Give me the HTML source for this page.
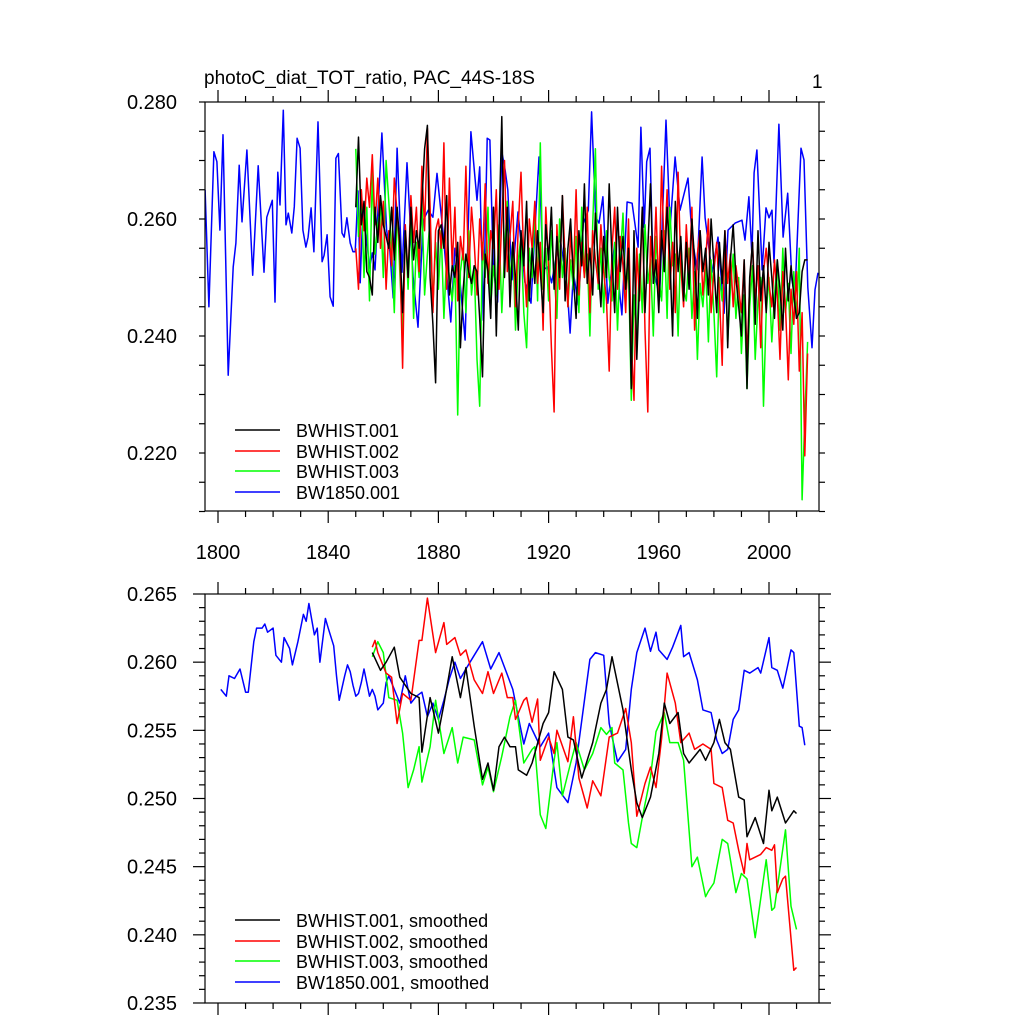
<!DOCTYPE html>
<html><head><meta charset="utf-8"><style>
html,body{margin:0;padding:0;background:#fff;}
svg{display:block;font-family:"Liberation Sans",Arial,sans-serif;}
</style></head><body>
<svg id="chart" width="1024" height="1024" viewBox="0 0 1024 1024" xmlns="http://www.w3.org/2000/svg">
<defs>
<clipPath id="clipTop"><rect x="205" y="102" width="614" height="409"/></clipPath>
<clipPath id="clipBot"><rect x="205" y="594" width="614" height="409"/></clipPath>
</defs>
<text x="204" y="84" font-size="19">photoC_diat_TOT_ratio, PAC_44S-18S</text>
<text x="812" y="88" font-size="19">1</text>
<g id="topAxes"></g>
<g id="botAxes"></g>
<g id="topLines" clip-path="url(#clipTop)"></g>
<g id="botLines" clip-path="url(#clipBot)"></g>
<rect x="205" y="102" width="614" height="409" fill="none" stroke="#000" stroke-width="1.2"/>
<rect x="205" y="594" width="614" height="409" fill="none" stroke="#000" stroke-width="1.2"/>
<g font-size="18">
<line x1="235" y1="430" x2="280" y2="430" stroke="#000" stroke-width="1.5"/><text x="296" y="437">BWHIST.001</text>
<line x1="235" y1="451" x2="280" y2="451" stroke="#f00" stroke-width="1.5"/><text x="296" y="458">BWHIST.002</text>
<line x1="235" y1="471" x2="280" y2="471" stroke="#0f0" stroke-width="1.5"/><text x="296" y="478">BWHIST.003</text>
<line x1="235" y1="492" x2="280" y2="492" stroke="#00f" stroke-width="1.5"/><text x="296" y="499">BW1850.001</text>
</g>
<g font-size="18">
<line x1="235" y1="920" x2="280" y2="920" stroke="#000" stroke-width="1.5"/><text x="296" y="927">BWHIST.001, smoothed</text>
<line x1="235" y1="941" x2="280" y2="941" stroke="#f00" stroke-width="1.5"/><text x="296" y="948">BWHIST.002, smoothed</text>
<line x1="235" y1="961" x2="280" y2="961" stroke="#0f0" stroke-width="1.5"/><text x="296" y="968">BWHIST.003, smoothed</text>
<line x1="235" y1="982" x2="280" y2="982" stroke="#00f" stroke-width="1.5"/><text x="296" y="989">BW1850.001, smoothed</text>
</g>
</svg>
<script>
// ---- data (values in units of 0.001) ----
const histStart = 1850;
const hist001 = [262,274,259,263,251,250,247,262,256,264,259,257,255,262,253,262,256,244,258,250,262,253,258,255,263,272,276,250,242,232,258,259,255,264,247,252,250,256,238,248,254,251,249,252,251,243,233,254,251,243,262,240,258,277.5,250,262,245,256,250,241,258,252,263,246,255,249,258,251,244,259,253,262,248,257,250,264,246,255,260,250,243,258,252,266,249,255,247,261,252,245,257,250,266,253,244,262,251,257,248,255,231,258,236,249,262,244,255,266,249,253,244,258,251,262,254,240,263,251,257,246,256,248,260,253,243,258,251,255,247,260,252,244,256,249,258,238,253,259,250,245,240,253,231,250,256,242,258,246,252,244,256,250,243,253,248,241,255,246,252,247,243,244,251,253,253];
const hist002 = [255,248,265,258,267,262,271,259,267,255,263,248,258,252,267,261,255,234.5,259,250,264,256,262,251,269,258,275.5,262,244,258,260,255,273,248,267,252,262,246,257,253,269,250,262,256,247,260,253,266,249,258,255,265,248,260,270,251,257,263,245,259,268,253,245,260,255,263,249,256,241,262,252,238,227,259,248,264,253,245,258,250,265,247,256,250,262,244,258,253,249,259,251,246,234,255,262,248,257,252,244,260,239,229,255,246,262,241,227,257,250,262,247,269,253,265,248,256,244,268,252,245,259,250,262,241,254,258,247,253,260,244,251,256,247,235,258,249,254,245,252,248,244,253,236,249,256,246,252,238,251,255,249,245,253,247,236,251,245,232.5,248,242,251,234,244,219.5,237];
const hist003 = [272,257,265,250,262,246,268,254,259,262,250,270,263,255,244,262,251,240,258,248,261,243,256,250,263,247,254,260,245,256,248,258,243,254,250,246,252,226.5,251,255,244,258,247,252,236,228,256,250,262,245,252,247,259,244,254,263,249,256,241,253,257,244,238,255,250,262,246,273,248,255,246,258,251,243,260,250,255,245,253,248,257,244,262,250,254,240,259,272,248,255,244,258,250,246,256,241,253,261,247,252,229,247,238,254,244,259,249,253,240,257,250,246,258,243,262,252,254,240,256,248,246,255,243,251,236,249,245,252,239,253,244,233,250,246,255,239,248,254,243,250,237,247,231,245,252,236,246,250,228,244,250,239,247,253,241,255,244,249,237,251,243,255,212,226,239];
const ctrlYears = [1795.3,1796.7,1798.5,1799.6,1800.7,1801.8,1803.7,1805.5,1806.5,1807.7,1808.7,1810.5,1812.6,1814.6,1816.7,1817.7,1819.7,1820.7,1821.7,1822.5,1823.7,1824.7,1825.5,1826.8,1827.7,1828.7,1829.8,1830.8,1831.9,1832.7,1833.8,1834.8,1836.3,1837.8,1838.5,1839.6,1840.7,1841.8,1842.8,1843.7,1845,1845.8,1846.8,1848,1849,1849.8,1850.8,1851.6,1852.6,1854,1855,1856,1857,1859.5,1861.2,1862.4,1863.6,1865,1866.8,1868.6,1870.8,1872.6,1874.5,1876.3,1878,1879.5,1881.7,1884.5,1886,1887.8,1889.7,1891.8,1894,1895,1896.3,1897.7,1898.7,1899.9,1901.5,1903,1904.2,1905.2,1906.7,1908.9,1911.4,1913.6,1915,1916.5,1918,1919.7,1921.1,1924.1,1926.6,1927.8,1929,1930.8,1932.6,1934.4,1935.6,1937.1,1938.3,1939.7,1941.5,1944,1946.6,1948.5,1950.3,1952.5,1953.5,1954.7,1955.6,1956.8,1957.9,1960.3,1962.6,1964.1,1965.9,1967.7,1970.6,1972.1,1973.9,1975.7,1976.8,1979.3,1981.5,1983.7,1985.1,1987.7,1990.2,1991.3,1992.7,1993.8,1994.6,1995.6,1997.5,1998.9,2000,2001.1,2001.8,2003.6,2005.1,2006.8,2008.3,2009.4,2011.6,2012.7,2014.1,2015.6,2016.7,2017.8];
const ctrlVals = [265,245,271.5,269.8,258.1,274.4,233.3,251.8,255.9,269.2,259.5,271.8,250.4,269.1,250.9,260.3,263.2,245.8,268,262.4,278.6,259,261,257.6,262.1,273.8,272.1,258.1,255.2,256.9,261.9,254.4,276.6,252.7,253.8,257.3,246.7,245.1,270.4,271.2,257.6,256.9,260.2,255.9,254.4,254.4,264.8,249.1,261.9,256.4,251.6,254.2,251.3,274.7,258.1,254.4,246.5,272.1,250.9,269.6,250.1,241.5,259.8,261.5,260.3,267.8,257.6,242.4,255,249.6,239.3,274.9,263.2,268.9,242.7,273.8,273.5,252.5,245.8,271.5,268.4,265,249.6,261.2,249.2,245.6,257.8,270.6,251.3,251.8,249.1,256.9,249.2,240.5,250.8,245.3,259.3,261.5,278.3,260.3,259.3,263.8,245.6,255.9,243.6,262.9,262.7,255.2,275.7,258.6,269.8,272.1,251.8,246.7,276.9,258.6,270.6,261.5,267,256.9,251.3,270.6,260.2,250.8,256.9,243.9,258.1,259.3,259.8,256.4,263.8,253.8,267.9,271.8,251.3,261.9,260.2,261.5,252.5,276.2,256.9,264.4,249.6,246.7,272.1,270.1,248.4,238,247.9,250.8];
const smY001 = [1856,1859,1861,1864,1866,1870,1873,1874,1877,1880,1882,1885,1888,1890,1893,1896,1898,1900,1902,1904,1906,1908,1909,1912,1914,1918,1920,1922,1925,1927,1929,1932,1936,1939,1941,1943,1947,1950,1952,1954,1957,1960,1962,1964,1967,1969,1971,1975,1977,1980,1982,1984,1986,1989,1991,1992,1995,1998,2000,2001,2003,2006,2009,2010];
const smV001 = [260.7,259.4,260,261.1,258.9,257.7,257.4,253.4,257.4,254.8,256.9,260.4,257.4,259.6,255.3,251.4,252.6,250.6,253.8,254.5,253.8,253.8,252.1,251.7,252.6,255.5,256.3,259.3,258,254.5,254.3,251.5,254.1,257,258,260.4,256.5,252.1,249.7,248.6,250.1,253.3,257,255.5,256.3,253.3,252.6,253.6,252.8,254.1,255.8,254.1,253.6,250.1,249.9,247.2,248.6,246.7,250.6,249.1,250.1,248.2,249.1,248.9];
const smY002 = [1856,1857,1858,1861,1863,1865,1867,1870,1873,1874,1876,1879,1882,1883,1886,1888,1890,1893,1896,1898,1900,1903,1905,1907,1908,1911,1912,1914,1916,1917,1920,1922,1923,1927,1929,1931,1934,1936,1939,1942,1945,1948,1950,1952,1955,1957,1959,1961,1963,1966,1968,1971,1973,1976,1979,1980,1983,1985,1987,1989,1991,1992,1993,1997,1999,2001,2002,2003,2005,2006,2009,2010];
const smV002 = [261.1,261.6,260.7,259.2,258.9,255.5,257.7,257.2,261.6,261.6,264.7,260.7,262.9,261.3,261.8,260.5,260.9,258.7,257.7,259.3,257.7,259.2,257.4,257.4,255.8,257.2,257.4,255.6,257.3,252.8,254.5,253.3,255,252.7,256,251.5,249.3,251.3,250.2,254.5,254.8,256.6,254.1,248.7,251.1,252.3,250.8,254.4,259.2,257,254.1,254.8,253.6,254,253.6,251.1,250.8,248.4,248.2,246.2,244.5,246.7,245.5,245.9,246.4,246.2,246.6,243.1,244.1,244.3,237.4,237.6];
const smY003 = [1856,1858,1860,1862,1865,1867,1869,1871,1873,1874,1877,1879,1882,1885,1887,1889,1893,1896,1898,1900,1903,1906,1908,1911,1914,1915,1917,1919,1922,1923,1925,1928,1930,1933,1936,1939,1941,1943,1944,1947,1949,1950,1952,1954,1957,1959,1962,1964,1967,1969,1972,1974,1977,1978,1980,1983,1985,1988,1990,1992,1995,1999,2001,2002,2006,2008,2010];
const smV003 = [260.4,261.5,260.7,257.4,257.2,254.8,250.8,252.1,253.8,251.2,253.8,257.2,253.3,255.2,252.6,254.5,254.3,251,252.3,250.5,253.1,256,257.2,252.6,253.6,253.8,248.8,247.8,252.8,254.1,250.2,252.6,254.1,252.1,253.3,255.2,254.7,255.2,252.6,252.1,248.2,246.7,246.4,248.6,251.6,254.9,256.3,254.1,254.1,252.8,245,245.7,242.8,243.2,243.8,247,246.7,243.1,244.5,244.1,239.8,245.5,241.8,242,247.7,242.1,240.4];
const smYctrl = [1801,1803,1804,1806,1808,1810,1811,1813,1814,1816,1817,1818,1820,1821,1823,1824,1826,1827,1829,1831,1832,1833,1835,1836,1837,1839,1840,1842,1843,1844,1846,1847,1848,1849,1850,1851,1852,1853,1855,1856,1857,1858,1860,1861,1862,1864,1866,1868,1870,1872,1874,1876,1878,1880,1882,1884,1886,1888,1890,1893,1896,1899,1902,1907,1911,1913,1917,1920,1923,1927,1930,1935,1937,1940,1942,1945,1948,1950,1952,1955,1957,1959,1960,1963,1965,1968,1969,1971,1974,1976,1979,1981,1983,1985,1987,1989,1991,1993,1996,1997,2000,2001,2003,2005,2008,2009,2011,2012,2013];
const smVctrl = [258,257.5,259,258.8,259.5,257.8,257.8,261.5,262.5,262.5,262.8,262.2,262.5,260.5,260,261.8,261,259.8,261.5,263.5,263,264.3,262,262.5,260,263.2,262.5,261.2,259,257.2,259,259.8,259.3,258.3,257.5,257.7,258.5,259.5,257.5,258,257.5,256.5,257,258.5,259,258,257,259,257,257.5,257.8,256,257,255.8,257.2,258.8,260,258.8,259.5,260.5,261.5,259.5,260.7,258,254,255.5,253.8,254.8,250.8,249.7,252.6,260.2,260.7,260.5,255.5,252.7,253.6,258,260.7,262.5,260.8,262.2,260.9,260.2,261.1,262.7,260.4,260.7,258.7,256.5,256.3,254.3,253.3,253.6,255.8,256.5,259.4,259.2,259.6,259.2,261.8,259.6,259.4,258.1,260.9,260.7,255.3,255.2,253.9];
const topYTicks = ["0.280","0.260","0.240","0.220"];
const topYTickVals = [280,260,240,220];
const botYTicks = ["0.265","0.260","0.255","0.250","0.245","0.240","0.235"];
const botYTickVals = [265,260,255,250,245,240,235];
const xTickLabels = ["1800","1840","1880","1920","1960","2000"];
const xTickVals = [1800,1840,1880,1920,1960,2000];

// ---- axes ----
const NS = "http://www.w3.org/2000/svg";
function xS(yr){ return 218 + (yr-1800)*2.755; }
function yT(v){ return 102 + (280-v)*5.85; }
function yB(v){ return 594 + (265-v)*13.633; }
function mk(tag, attrs, parent){ const e=document.createElementNS(NS,tag); for(const k in attrs) e.setAttribute(k,attrs[k]); parent.appendChild(e); return e; }

function axes(gid, yFn, top, bottom, yMin, yMax, majorStep, minorStep, ticks, tickVals, showX){
  const g=document.getElementById(gid);
  // x ticks
  for(let yr=1800; yr<=2010; yr+=10){
    const x=xS(yr), L=(yr%40===0)?12:6;
    const a=mk('line',{x1:x,y1:bottom,x2:x,y2:bottom+L,stroke:'#000','stroke-width':1.2},g);
    
    
    const b=mk('line',{x1:x,y1:top,x2:x,y2:top-L,stroke:'#000','stroke-width':1.2},g);
    
    
  }
  if(showX){
    xTickLabels.forEach((t,i)=>{
      const e=mk('text',{x:xS(xTickVals[i]),y:bottom+48,'text-anchor':'middle','font-size':20},g);
      e.textContent=t;
      
      
    });
  }
  for(let v=yMin; v<=yMax+1e-6; v+=minorStep){
    const vv=Math.round(v*1000)/1000;
    const isMaj=Math.abs((vv-yMin)/majorStep-Math.round((vv-yMin)/majorStep))<1e-6 && tickVals.some(t=>Math.abs(t-vv)<1e-6);
    const L=isMaj?12:6, y=yFn(vv);
    const a=mk('line',{x1:205,y1:y,x2:205-L,y2:y,stroke:'#000','stroke-width':1.2},g);
    
    
    const b=mk('line',{x1:819,y1:y,x2:819+L,y2:y,stroke:'#000','stroke-width':1.2},g);
    
    
  }
  ticks.forEach((t,i)=>{
    const e=mk('text',{x:177,y:yFn(tickVals[i])+7,'text-anchor':'end','font-size':20},g);
    e.textContent=t;
    
    
  });
}
axes('topAxes', yT, 102, 511, 210, 280, 20, 5, topYTicks, topYTickVals, true);
axes('botAxes', yB, 594, 1003, 235, 265, 5, 1, botYTicks, botYTickVals, false);

function line(gid, years, vals, yFn, color, name){
  const pts=vals.map((v,i)=>xS(years[i]).toFixed(1)+','+yFn(v).toFixed(1)).join(' ');
  const p=mk('polyline',{points:pts,fill:'none',stroke:color,'stroke-width':1.5,'stroke-linejoin':'round'},document.getElementById(gid));
  
  
}
const histYears = hist001.map((_,i)=>histStart+i);
line('topLines', ctrlYears, ctrlVals, yT, '#00f', 'bw1850-001-line');
line('topLines', histYears, hist003, yT, '#0f0', 'bwhist-003-line');
line('topLines', histYears, hist002, yT, '#f00', 'bwhist-002-line');
line('topLines', histYears, hist001, yT, '#000', 'bwhist-001-line');
line('botLines', smYctrl, smVctrl, yB, '#00f', 'bw1850-001-smoothed-line');
line('botLines', smY003, smV003, yB, '#0f0', 'bwhist-003-smoothed-line');
line('botLines', smY002, smV002, yB, '#f00', 'bwhist-002-smoothed-line');
line('botLines', smY001, smV001, yB, '#000', 'bwhist-001-smoothed-line');
</script>
</body></html>
